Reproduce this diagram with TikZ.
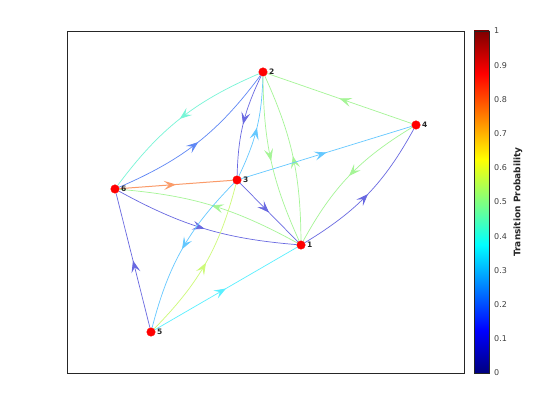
\documentclass[tikz,border=0pt]{standalone}
\usepackage{fontspec}
\setmainfont{DejaVu Sans}
\usepackage{xcolor}
\usetikzlibrary{arrows.meta, positioning, decorations.markings}
\definecolor{pblue}{RGB}{105, 105, 225}
\definecolor{pmid}{RGB}{95, 135, 245}
\definecolor{psky}{RGB}{100, 200, 255}
\definecolor{pcyan}{RGB}{90, 240, 255}
\definecolor{paqua}{RGB}{120, 245, 215}
\definecolor{pgreen}{RGB}{165, 245, 150}
\definecolor{plime}{RGB}{205, 250, 120}
\definecolor{porange}{RGB}{250, 155, 105}
\definecolor{jetA}{rgb}{0, 0, 0.5}
\definecolor{jetB}{rgb}{0, 0, 1}
\definecolor{jetC}{rgb}{0, 1, 1}
\definecolor{jetD}{rgb}{1, 1, 0}
\definecolor{jetE}{rgb}{1, 0, 0}
\definecolor{jetF}{rgb}{0.5, 0, 0}
\pgfdeclareverticalshading{jetbar}{100bp}{color(0bp)=(jetA); color(25bp)=(jetA); color(31.25bp)=(jetB); color(43.75bp)=(jetC); color(56.25bp)=(jetD); color(68.75bp)=(jetE); color(75bp)=(jetF); color(100bp)=(jetF)}

\begin{document}
\begin{tikzpicture}[
        x=1pt, y=1pt,
        vertex/.style={circle, fill=red, draw=red, inner sep=0pt, minimum size=8.5pt},
        vlabel/.style={font=\fontsize{7.5}{8}\selectfont\bfseries, inner sep=0pt, text=black!85},
        link/.style={line width=0.7pt, postaction={decorate}, decoration={markings, mark=at position 0.5 with {\arrow{Stealth[length=12pt, width=9pt, inset=5pt]}}}},
        pair/.style={link, bend right=12},
        widepair/.style={link, bend right=15},
        ticklabel/.style={font=\fontsize{8}{9}\selectfont, text=black!75, anchor=west, inner sep=0pt}
    ]
        \fill[white] (0, 0) rectangle (560, 420);
        \useasboundingbox (0, 0) rectangle (560, 420);
        \draw[black!85, line width=0.6pt] (67, 47) rectangle (464, 389);

        \node[vertex] (n1) at (301, 175) {};
        \node[vertex] (n2) at (263, 348) {};
        \node[vertex] (n3) at (237, 240) {};
        \node[vertex] (n4) at (416, 295) {};
        \node[vertex] (n5) at (151, 88) {};
        \node[vertex] (n6) at (115, 231) {};

        % two-way links bend apart
        \draw[widepair, paqua] (n2) to (n6);
        \draw[widepair, pmid] (n6) to (n2);
        \draw[pair, pblue] (n2) to (n3);
        \draw[pair, psky] (n3) to (n2);
        \draw[pair, pgreen] (n2) to (n1);
        \draw[pair, pgreen] (n1) to (n2);
        \draw[widepair, pgreen] (n4) to (n1);
        \draw[widepair, pblue] (n1) to (n4);
        \draw[pair, pgreen] (n1) to (n6);
        \draw[pair, pblue] (n6) to (n1);
        \draw[widepair, psky] (n3) to (n5);
        \draw[widepair, plime] (n5) to (n3);
        % one-way links
        \draw[link, pgreen] (n4) -- (n2);
        \draw[link, psky] (n3) -- (n4);
        \draw[link, porange, line width=1pt] (n6) -- (n3);
        \draw[link, pblue] (n3) -- (n1);
        \draw[link, pblue] (n5) -- (n6);
        \draw[link, pcyan] (n5) -- (n1);

        \node[vlabel, right=1.5pt of n1] (l1) {1};
        \node[vlabel, right=1.5pt of n2] (l2) {2};
        \node[vlabel, right=1.5pt of n3] (l3) {3};
        \node[vlabel, right=1.5pt of n4] (l4) {4};
        \node[vlabel, right=1.5pt of n5] (l5) {5};
        \node[vlabel, right=1.5pt of n6] (l6) {6};

        % colour bar
        \shade[shading=jetbar] (474, 47) rectangle (489, 389);
        \draw[black!85, line width=0.6pt] (474, 47) rectangle (489, 389);
        \foreach \v/\t in {0/0, 1/0.1, 2/0.2, 3/0.3, 4/0.4, 5/0.5, 6/0.6, 7/0.7, 8/0.8, 9/0.9, 10/1}
            \node[ticklabel] (tk\v) at (494, 47 + 34.2*\v) {\t};
        \node[font=\fontsize{9}{10}\selectfont\bfseries, text=black!85, rotate=90] (cbtitle) at (518, 218) {Transition Probability};
    \end{tikzpicture}
\end{document}
